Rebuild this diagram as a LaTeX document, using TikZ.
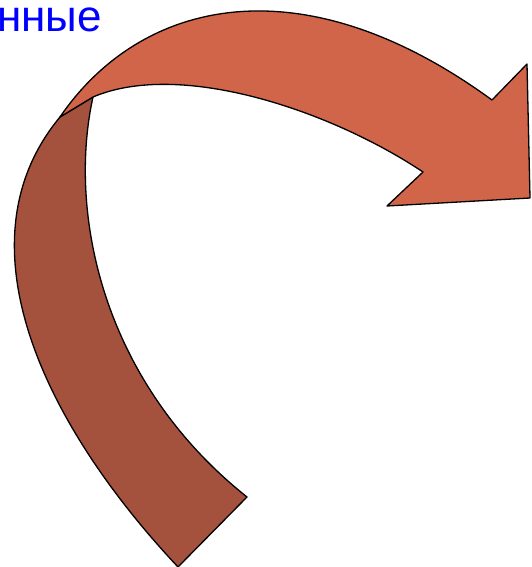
\documentclass[tikz,border=0pt]{standalone}
\usepackage{fontspec}
\setmainfont{Liberation Sans}
\definecolor{bandfront}{RGB}{208,101,74}
\definecolor{bandback}{RGB}{164,81,61}
\definecolor{labelblue}{RGB}{0,0,255}

\begin{document}
\begin{tikzpicture}[
    x=1pt, y=-1pt,
    band/.style={draw=black, line width=1.3pt, line join=round},
    lbl/.style={font=\fontsize{44}{44}\selectfont, text=labelblue, inner sep=0pt},
]
\useasboundingbox (0,0) rectangle (531,567);

% Back of the band
\fill[bandback, band] (178,567) .. controls (40,420) and (-42,240) .. (60,117)
    -- (93,97) .. controls (68,210) and (100,380) .. (247,497) -- cycle;

% Front of the band with the head
\fill[bandfront, band] (60,117) .. controls (140,0) and (300,-40) .. (492,100)
    -- (527,64) -- (530,198) -- (387,206) -- (423,172)
    .. controls (330,110) and (180,60) .. (93,97) -- cycle;

% Label
\node[lbl, anchor=base west] (word) at (-3,32) {нные};

\end{tikzpicture}
\end{document}
